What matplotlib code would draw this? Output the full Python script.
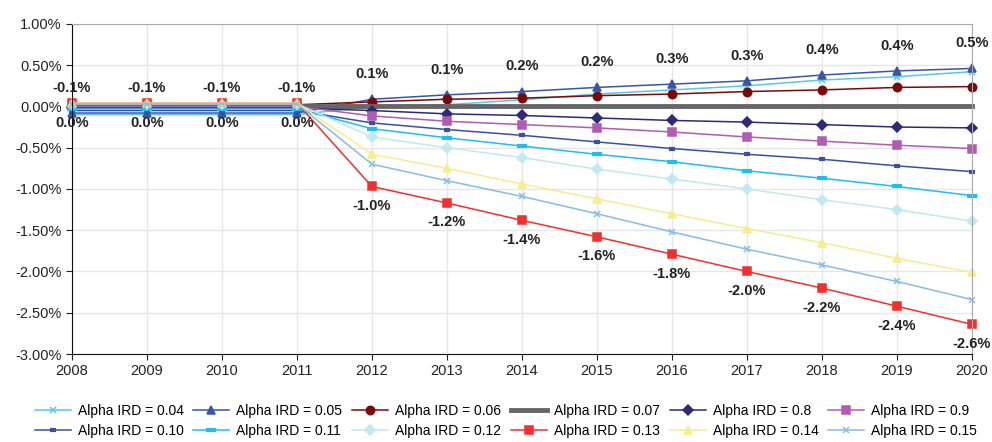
import matplotlib
matplotlib.use("Agg")
import matplotlib.pyplot as plt
from matplotlib.ticker import FuncFormatter

plt.rcParams['font.family'] = ['Liberation Sans', 'DejaVu Sans']

years = [2008, 2009, 2010, 2011, 2012, 2013, 2014, 2015, 2016, 2017, 2018, 2019, 2020]
labels = ['Alpha IRD = 0.04', 'Alpha IRD = 0.05', 'Alpha IRD = 0.06', 'Alpha IRD = 0.07',
          'Alpha IRD = 0.8', 'Alpha IRD = 0.9', 'Alpha IRD = 0.10', 'Alpha IRD = 0.11',
          'Alpha IRD = 0.12', 'Alpha IRD = 0.13', 'Alpha IRD = 0.14', 'Alpha IRD = 0.15']

# valeurs en %
ird_004 = [-0.10, -0.10, -0.10, -0.10, 0.00, 0.02, 0.08, 0.15, 0.20, 0.25, 0.32, 0.36, 0.42]
ird_005 = [-0.08, -0.08, -0.08, -0.08, 0.087, 0.14, 0.18, 0.23, 0.27, 0.31, 0.38, 0.43, 0.46]
ird_006 = [0.02, 0.02, 0.02, 0.02, 0.055, 0.087, 0.10, 0.13, 0.15, 0.18, 0.20, 0.23, 0.24]
ird_007 = [0.0] * 13
ird_08 = [-0.02, -0.02, -0.02, -0.02, -0.05, -0.09, -0.11, -0.14, -0.17, -0.19, -0.22, -0.25, -0.26]
ird_09 = [0.0, 0.0, 0.0, 0.0, -0.115, -0.18, -0.22, -0.26, -0.31, -0.37, -0.42, -0.47, -0.51]
ird_010 = [-0.05, -0.05, -0.05, -0.05, -0.20, -0.28, -0.35, -0.43, -0.51, -0.58, -0.64, -0.72, -0.79]
ird_011 = [-0.03, -0.03, -0.03, -0.03, -0.27, -0.38, -0.48, -0.58, -0.67, -0.78, -0.87, -0.97, -1.08]
ird_012 = [0.03, 0.03, 0.03, 0.03, -0.37, -0.50, -0.62, -0.76, -0.88, -1.00, -1.13, -1.25, -1.39]
ird_013 = [0.04, 0.04, 0.04, 0.04, -0.97, -1.17, -1.38, -1.58, -1.79, -2.00, -2.20, -2.42, -2.64]
ird_014 = [0.04, 0.04, 0.04, 0.04, -0.58, -0.75, -0.94, -1.12, -1.30, -1.48, -1.65, -1.84, -2.01]
ird_015 = [0.03, 0.03, 0.03, 0.03, -0.70, -0.90, -1.09, -1.30, -1.52, -1.73, -1.92, -2.12, -2.34]

series = [ird_004, ird_005, ird_006, ird_007, ird_08, ird_09,
          ird_010, ird_011, ird_012, ird_013, ird_014, ird_015]

# couleur, marqueur, taille, epaisseur
styles = [
    ('#5BC8E0', 'x', 4.5, 1.1),
    ('#3A55A8', '^', 6, 1.1),
    ('#7A0A0A', 'o', 6, 1.1),
    ('#666666', None, 0, 3.5),
    ('#2E2A78', 'D', 5, 1.1),
    ('#B05CB0', 's', 6, 1.1),
    ('#3C4FA0', '_', 4.5, 1.1),
    ('#1EBEF0', '_', 7, 1.1),
    ('#C2E8F2', 'D', 5, 1.1),
    ('#F03030', 's', 6, 1.1),
    ('#F5EE90', '^', 6, 1.1),
    ('#88BBE8', 'x', 4.5, 1.1),
]

fig = plt.figure(figsize=(9.92, 4.42), dpi=100)
ax = fig.add_axes([0.0726, 0.199, 0.907, 0.747])

handles = []
for vals, lab, (c, m, ms, lw) in zip(series, labels, styles):
    mew = 3 if m == '_' else 1.1
    h, = ax.plot(years, vals, color=c, marker=m, markersize=ms, linewidth=lw,
                 markeredgewidth=mew, label=lab, clip_on=False)
    handles.append(h)

# etiquettes de donnees
for x, v in zip(years, ird_005):
    ax.annotate(f"{v:.1f}%", (x, v), xytext=(0, 13), textcoords='offset points',
                ha='center', va='bottom', fontsize=10.5, fontweight='bold', color='#222222')
for x, v in zip(years, ird_013):
    ax.annotate(f"{v:.1f}%", (x, v), xytext=(0, -9), textcoords='offset points',
                ha='center', va='top', fontsize=10.5, fontweight='bold', color='#222222')

ax.set_xlim(2008, 2020)
ax.set_ylim(-3.0, 1.0)
ax.set_xticks(years)
ax.set_yticks([1.0, 0.5, 0.0, -0.5, -1.0, -1.5, -2.0, -2.5, -3.0])
ax.yaxis.set_major_formatter(FuncFormatter(lambda v, p: f"{v:.2f}%"))
ax.tick_params(labelsize=10.5, length=4, colors='#222222')
ax.grid(True, color='#E6E6E6', linewidth=1)
ax.set_axisbelow(True)
for s in ['top', 'right']:
    ax.spines[s].set_color('#AAAAAA')
for s in ['left', 'bottom']:
    ax.spines[s].set_color('#111111')

# legende ligne par ligne (6 colonnes)
order = [i for pair in zip(range(6), range(6, 12)) for i in pair]
fig.legend([handles[i] for i in order], [labels[i] for i in order],
           loc='upper center', bbox_to_anchor=(0.51, 0.115), ncol=6, frameon=False,
           fontsize=10, handlelength=2.6, columnspacing=0.7, handletextpad=0.5,
           labelspacing=0.45)

fig.savefig('out.png', dpi=100)
